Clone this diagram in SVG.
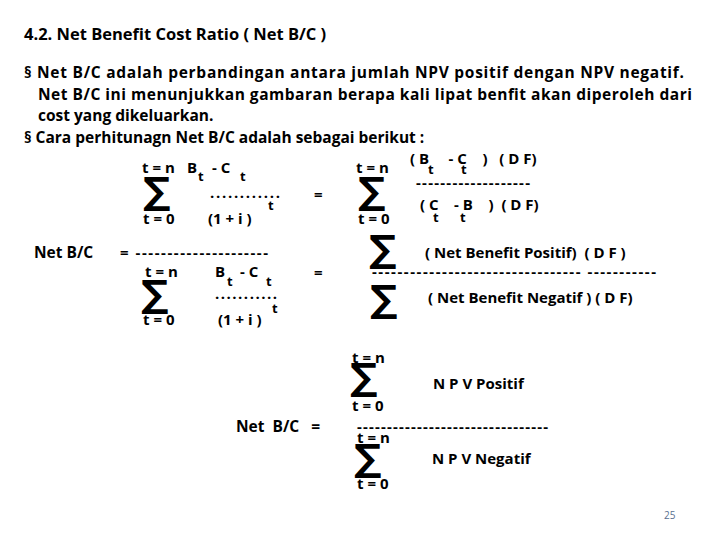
<svg xmlns="http://www.w3.org/2000/svg" width="720" height="540" viewBox="0 0 720 540">
<style>
text{font-family:"Open Sans","Liberation Sans",sans-serif;font-weight:bold;fill:#000;font-size:15px}
.sg{font-family:"DejaVu Sans",sans-serif;font-size:38px;font-weight:bold}
.sm{font-size:15px}
.sub{font-size:13px}
.b{font-size:15.5px}
</style>
<rect width="720" height="540" fill="#fff"/>
<g id="text">
<text x="24" y="40" style="font-size:16.5px">4.2.  Net Benefit Cost Ratio ( Net B/C )</text>
<text x="24" y="78" class="b" textLength="660">§ Net B/C adalah perbandingan antara jumlah NPV positif dengan NPV negatif.</text>
<text x="38" y="100" class="b" textLength="654">Net B/C ini menunjukkan gambaran berapa kali lipat benfit akan diperoleh dari</text>
<text x="38" y="121" class="b">cost yang dikeluarkan.</text>
<text x="24" y="143" class="b">§ Cara perhitunagn Net B/C adalah sebagai berikut :</text>
</g>
<g id="f1">
<text x="142" y="173" class="sm" xml:space="preserve">t = n</text>
<text x="143" y="204" class="sg">∑</text>
<text x="143" y="224" class="sm" xml:space="preserve">t = 0</text>
<text x="187" y="173" class="sm">B</text><text x="198" y="181" class="sub">t</text>
<text x="212" y="173" class="sm">- C</text><text x="240" y="181" class="sub">t</text>
<text x="210" y="198" class="sm" textLength="70">............</text>
<text x="268" y="210" class="sub">t</text>
<text x="208" y="224" class="sm">(1 + i )</text>
<text x="314" y="200" class="sm">=</text>
<text x="356" y="173" class="sm" xml:space="preserve">t = n</text>
<text x="358" y="204" class="sg">∑</text>
<text x="358" y="224" class="sm" xml:space="preserve">t = 0</text>
<text x="410" y="164" class="sm" xml:space="preserve">( B     - C    )   ( D F)</text>
<text x="428" y="174" class="sub">t</text><text x="461" y="174" class="sub">t</text>
<text x="416" y="188" class="sm" textLength="114">-------------------</text>
<text x="420" y="210" class="sm" xml:space="preserve">( C    - B    )  ( D F)</text>
<text x="433" y="222" class="sub">t</text><text x="460" y="222" class="sub">t</text>
</g>
<g id="f2">
<text x="34" y="258" class="b">Net B/C</text>
<text x="120" y="258" class="sm" textLength="148" xml:space="preserve">= ---------------------</text>
<text x="145" y="277" class="sm" xml:space="preserve">t = n</text>
<text x="141" y="307" class="sg">∑</text>
<text x="143" y="325" class="sm" xml:space="preserve">t = 0</text>
<text x="215" y="277" class="sm">B</text><text x="227" y="286" class="sub">t</text>
<text x="240" y="277" class="sm">-  C</text><text x="266" y="286" class="sub">t</text>
<text x="215" y="299" class="sm" textLength="62">...........</text>
<text x="218" y="325" class="sm">(1 + i )</text>
<text x="272" y="313" class="sub">t</text>
<text x="314" y="278" class="sm">=</text>
<text x="369" y="262" class="sg">∑</text>
<text x="425" y="258" class="sm" xml:space="preserve">( Net Benefit Positif)  ( D F )</text>
<text x="372" y="277" class="sm" textLength="284" xml:space="preserve">--------------------------------- -----------</text>
<text x="370" y="312" class="sg">∑</text>
<text x="428" y="303" class="sm">( Net Benefit Negatif ) ( D F)</text>
</g>
<g id="f3">
<text x="352" y="363" class="sm" xml:space="preserve">t = n</text>
<text x="350" y="390" class="sg">∑</text>
<text x="433" y="389" class="sm">N P V Positif</text>
<text x="352" y="411" class="sm" xml:space="preserve">t = 0</text>
<text x="236" y="432" class="b" xml:space="preserve">Net  B/C   =</text>
<text x="357" y="432" class="sm" textLength="191">--------------------------------</text>
<text x="357" y="443" class="sm" xml:space="preserve">t = n</text>
<text x="354" y="471" class="sg">∑</text>
<text x="432" y="464" class="sm">N P V Negatif</text>
<text x="357" y="489" class="sm" xml:space="preserve">t = 0</text>
<text x="664" y="519" style="font-size:10px;font-weight:normal;fill:#5a6f8f">25</text>
</g>
</svg>
